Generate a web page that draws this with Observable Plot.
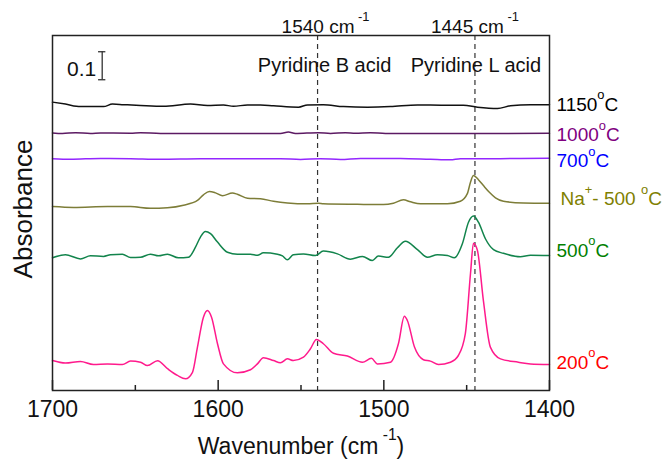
<!DOCTYPE html>
<html><head><meta charset="utf-8">
<script src="https://cdn.jsdelivr.net/npm/d3@7"></script>
<script src="https://cdn.jsdelivr.net/npm/@observablehq/plot@0.6"></script>
<style>body{margin:0;background:#fff}</style>
</head><body><div id="chart"></div>
<script>
// ---- data: [wavenumber (cm-1), offset absorbance] ----
const s1150 = [[1700,1.030],[1692.2,1.023],[1683.1,1.014],[1669.2,1.014],[1663.8,1.023],[1657.2,1.021],[1646.9,1.018],[1633.0,1.015],[1616.7,1.023],[1606.5,1.018],[1596.8,1.020],[1590.8,1.015],[1582.3,1.020],[1574.5,1.020],[1566.6,1.017],[1551.5,1.012],[1546.1,1.020],[1536.5,1.021],[1524.4,1.014],[1509.9,1.012],[1496.0,1.014],[1479.7,1.020],[1464.0,1.019],[1452.0,1.019],[1443.5,1.012],[1431.4,1.007],[1423.6,1.017],[1411.5,1.021],[1400,1.021]];
const s1000 = [[1700,0.920],[1694.0,0.918],[1686.1,0.921],[1677.1,0.918],[1671.0,0.920],[1652.9,0.919],[1646.9,0.921],[1634.8,0.918],[1610.7,0.918],[1586.5,0.918],[1562.4,0.918],[1557.6,0.923],[1553.4,0.918],[1539.5,0.921],[1532.2,0.918],[1523.2,0.921],[1517.1,0.919],[1508.1,0.921],[1499.0,0.918],[1477.9,0.918],[1453.8,0.918],[1429.6,0.918],[1400,0.919]];
const s700 = [[1700,0.828],[1689.1,0.826],[1671.0,0.829],[1652.9,0.828],[1634.8,0.826],[1610.7,0.828],[1586.5,0.828],[1562.4,0.828],[1550.3,0.825],[1538.3,0.828],[1526.2,0.825],[1514.1,0.829],[1490.0,0.829],[1471.9,0.826],[1459.8,0.824],[1453.8,0.828],[1429.6,0.828],[1417.6,0.829],[1400,0.830]];
const sNa500 = [[1700,0.657],[1687.3,0.654],[1666.8,0.657],[1652.9,0.657],[1640.9,0.651],[1630.6,0.653],[1620.9,0.662],[1612.5,0.679],[1608.9,0.699],[1605.3,0.711],[1601.6,0.706],[1597.4,0.696],[1591.4,0.705],[1588.4,0.701],[1582.3,0.687],[1574.5,0.685],[1566.6,0.676],[1558.2,0.670],[1546.1,0.667],[1539.5,0.669],[1536.5,0.667],[1515.9,0.665],[1500.2,0.664],[1494.2,0.669],[1488.2,0.681],[1483.9,0.674],[1477.9,0.667],[1461.6,0.667],[1453.8,0.676],[1449.6,0.703],[1447.7,0.744],[1445.9,0.768],[1442.9,0.753],[1439.9,0.732],[1436.3,0.708],[1432.6,0.688],[1427.8,0.676],[1415.8,0.670],[1400,0.669]];
const s500 = [[1700,0.474],[1692.2,0.485],[1683.1,0.470],[1677.1,0.481],[1669.2,0.479],[1665.0,0.485],[1657.8,0.487],[1652.9,0.475],[1646.9,0.476],[1640.9,0.487],[1636.0,0.481],[1630.6,0.487],[1624.0,0.474],[1617.9,0.476],[1613.7,0.512],[1610.7,0.548],[1607.7,0.568],[1604.6,0.560],[1600.4,0.530],[1594.4,0.494],[1588.4,0.487],[1580.5,0.487],[1576.3,0.483],[1572.7,0.492],[1564.2,0.487],[1561.2,0.481],[1558.2,0.467],[1554.6,0.485],[1548.5,0.488],[1541.3,0.482],[1536.5,0.498],[1528.0,0.488],[1520.2,0.469],[1512.9,0.479],[1506.9,0.464],[1503.3,0.480],[1497.2,0.476],[1491.8,0.510],[1487.0,0.533],[1479.7,0.503],[1473.7,0.476],[1467.7,0.485],[1461.6,0.482],[1457.4,0.474],[1452.6,0.524],[1448.9,0.601],[1445.9,0.623],[1442.9,0.601],[1438.7,0.542],[1433.8,0.503],[1427.8,0.490],[1417.6,0.478],[1411.5,0.483],[1400,0.482]];
const s200 = [[1700,0.107],[1692.2,0.098],[1683.1,0.104],[1675.3,0.093],[1666.8,0.095],[1657.8,0.093],[1652.9,0.105],[1646.9,0.101],[1642.7,0.089],[1636.6,0.106],[1630.6,0.078],[1624.6,0.054],[1619.7,0.042],[1615.5,0.065],[1612.5,0.155],[1608.9,0.262],[1606.5,0.286],[1604.0,0.262],[1600.4,0.167],[1596.8,0.095],[1588.4,0.063],[1580.5,0.074],[1576.3,0.095],[1572.7,0.117],[1566.6,0.107],[1562.4,0.099],[1558.2,0.113],[1554.6,0.107],[1548.5,0.119],[1544.3,0.149],[1540.7,0.182],[1536.5,0.167],[1530.4,0.133],[1522.0,0.123],[1512.9,0.101],[1507.5,0.115],[1503.9,0.095],[1496.0,0.101],[1491.2,0.167],[1487.6,0.265],[1485.8,0.250],[1481.5,0.155],[1476.1,0.110],[1471.9,0.105],[1467.0,0.093],[1459.8,0.101],[1455.0,0.125],[1450.8,0.203],[1447.7,0.417],[1445.9,0.526],[1443.5,0.500],[1439.9,0.321],[1435.7,0.155],[1429.6,0.113],[1418.8,0.101],[1411.5,0.095],[1400,0.093]];

const seriesData   = [s1150, s1000, s700, sNa500, s500, s200];
const seriesLabels = ["1150^{o}C", "1000^{o}C", "700^{o}C", "Na^{+}- 500 ^{o}C", "500^{o}C", "200^{o}C"];
const lineColors   = ["#111111", "#5c1a63", "#9326ff", "#7d7d38", "#12844c", "#ff1a8c"];
const labelColors  = ["#000000", "#800080", "#0000ff", "#808000", "#008000", "#ff0000"];
const labelNudge   = [[7,0],[7,2],[7,3],[11,-4],[7,-5],[7,-2]]; // [dx, dy] px

const markerWn     = [1540, 1445];
const markerLabels = ["1540 cm^{ -1}", "1445 cm^{ -1}"];
const bandLabels   = ["Pyridine B acid", "Pyridine L acid"];
const markerDx     = [8, 0];
const bandDx       = [7, 1];

const majorTicks = [1700, 1600, 1500, 1400];
const minorTicks = [1650, 1550, 1450];
const scaleBar = {x: 1670, lo: 1.110, hi: 1.210, label: "0.1"};
const xTitle = "Wavenumber (cm^{ -1})";
const yTitle = "Absorbance";

// ---- chart ----
const marks = [];
marks.push(Plot.ruleX(markerWn, {x: d => d, stroke: "#333", strokeWidth: 1.2, strokeDasharray: "5,4"}));
seriesData.forEach((s, i) => {
  marks.push(Plot.line(s, {x: d => d[0], y: d => d[1], stroke: lineColors[i], strokeWidth: 1.5, curve: "monotone-x"}));
  const last = s[s.length - 1];
  marks.push(Plot.text([last], {x: d => d[0], y: d => d[1], text: () => seriesLabels[i], textAnchor: "start",
    dx: labelNudge[i][0], dy: labelNudge[i][1], fill: labelColors[i], fontSize: 19}));
});
markerWn.forEach((w, i) => {
  marks.push(Plot.text([w], {x: d => d, text: () => markerLabels[i], frameAnchor: "top", lineAnchor: "bottom", textAnchor: "middle", dy: -3, dx: markerDx[i], fontSize: 19, fill: "#111"}));
  marks.push(Plot.text([w], {x: d => d, text: () => bandLabels[i], frameAnchor: "top", lineAnchor: "bottom", textAnchor: "middle", dy: 36, dx: bandDx[i], fontSize: 20, fill: "#111"}));
});
// scale bar
marks.push(Plot.ruleX([scaleBar], {x: "x", y1: "lo", y2: "hi", stroke: "#333", strokeWidth: 1.3}));
marks.push(Plot.ruleY([scaleBar.lo, scaleBar.hi], {y: d => d, x1: scaleBar.x + 2.2, x2: scaleBar.x - 2.2, stroke: "#333", strokeWidth: 1.3}));
marks.push(Plot.text([scaleBar], {x: "x", y: d => (d.lo + d.hi) / 2, text: d => d.label, textAnchor: "end", dx: -6, dy: 4, fontSize: 21, fill: "#111"}));
// frame, ticks, axis
marks.push(Plot.frame({stroke: "#222", strokeWidth: 1.5}));
marks.push(Plot.tickX(majorTicks, {x: d => d, insetTop: 345, stroke: "#222", strokeWidth: 1.5}));
marks.push(Plot.tickX(minorTicks, {x: d => d, insetTop: 350, stroke: "#222", strokeWidth: 1.5}));
marks.push(Plot.axisX({ticks: majorTicks, tickSize: 0, tickPadding: 10, tickFormat: d => String(d), fontSize: 23, label: null, fill: "#111"}));
marks.push(Plot.text([xTitle], {text: d => d, frameAnchor: "bottom", lineAnchor: "bottom", textAnchor: "middle", dy: 63, fontSize: 23, fill: "#111"}));
marks.push(Plot.text([yTitle], {text: d => d, frameAnchor: "left", textAnchor: "middle", lineAnchor: "middle", rotate: -90, dx: -29, dy: -4, fontSize: 26, fill: "#111"}));

const svg = Plot.plot({
  width: 670, height: 459,
  marginLeft: 52, marginRight: 121, marginTop: 35, marginBottom: 69,
  style: {fontFamily: "'Liberation Sans', Arial, sans-serif", fontSize: "19px", background: "#fff", overflow: "visible"},
  x: {domain: [1700, 1400], label: null},
  y: {domain: [0, 1.268], axis: null},
  marks
});

// superscript markup ^{...} -> tspans
d3.select(svg).selectAll("text").each(function () {
  const txt = this.textContent;
  if (!txt.includes("^{")) return;
  this.textContent = "";
  let raised = false;
  for (const p of txt.split(/(\^\{[^}]*\})/)) {
    if (!p) continue;
    const ts = document.createElementNS("http://www.w3.org/2000/svg", "tspan");
    if (p.startsWith("^{")) {
      ts.textContent = p.slice(2, -1);
      ts.style.fontSize = "68%";
      ts.setAttribute("dy", "-0.88em");
      raised = true;
    } else {
      ts.textContent = p;
      if (raised) { ts.setAttribute("dy", "0.6em"); raised = false; }
    }
    this.appendChild(ts);
  }
});
document.getElementById("chart").appendChild(svg);
</script></body></html>
